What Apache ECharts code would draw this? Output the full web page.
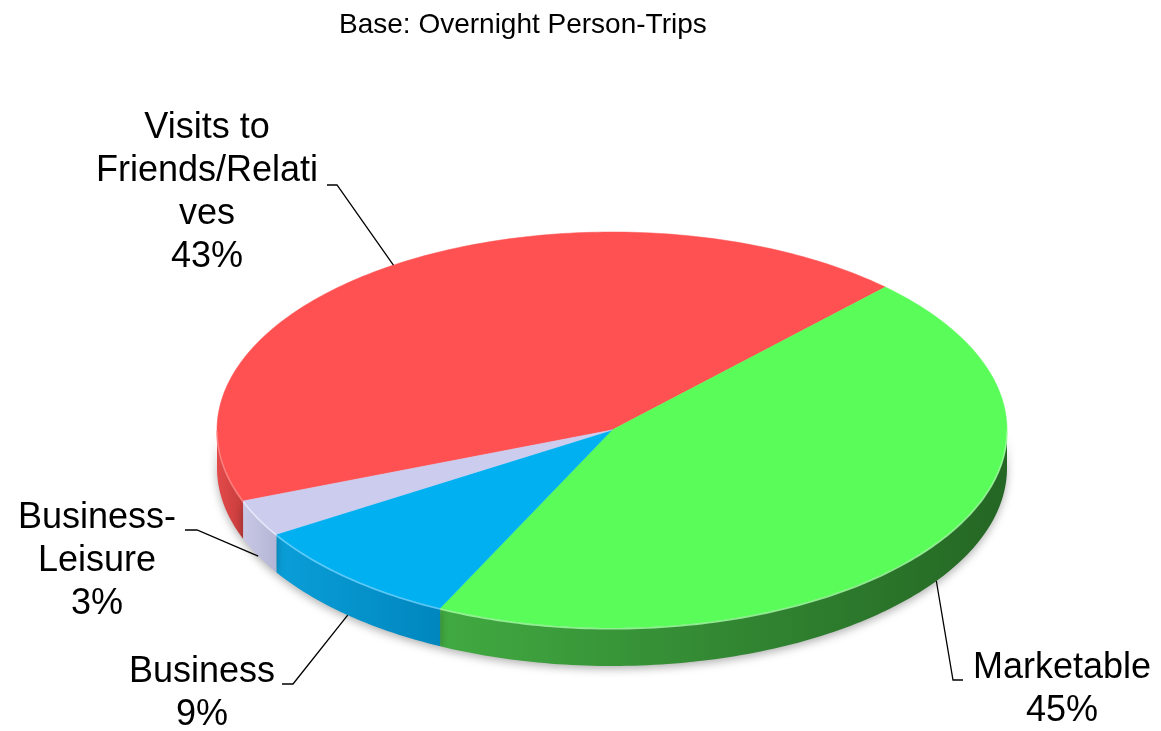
<!DOCTYPE html>
<html>
<head>
<meta charset="utf-8">
<script src="https://cdn.jsdelivr.net/npm/echarts@6/dist/echarts.min.js"></script>
<style>
  html, body { margin: 0; padding: 0; background: #ffffff; }
  #chart { width: 1161px; height: 731px; }
</style>
</head>
<body>
<div id="chart"></div>
<script>
// Purpose of overnight person-trips (share of trips, %)
const categories = ['Visits to Friends/Relatives', 'Marketable', 'Business', 'Business-Leisure'];
const labelLines = ['Visits to\nFriends/Relati\nves', 'Marketable', 'Business', 'Business-\nLeisure'];
const shares = [43, 45, 9, 3];

const topColors = ['#FF5151', '#5AFC5A', '#00B0F0', '#CCCCEE'];
const sideColors = [
  ['#E44A4A', '#C63C3C'],
  ['#41AA41', '#246624'],
  ['#0A9ED8', '#0086BE'],
  ['#C8C8E6', '#B4B4D4']
];
const rimColors = ['#FF8A8A', '#A8FFA8', '#70D4FF', '#EEEEFF'];

// Projected disc geometry
const geo = { cx: 612, cy: 430, rx: 395, ry: 198, depth: 38, startAngle: 159 };

// Label placement: text column centre, first-line centre, elbow of the leader
const labelLayout = [
  { x: 207, y: 128, elbow: [[327, 185], [337, 185]] },
  { x: 1062, y: 668, elbow: [[963, 680], [953, 680]] },
  { x: 202, y: 672, elbow: [[282, 684], [293, 684]] },
  { x: 97, y: 518, elbow: [[185, 530], [197, 530]] }
];
const fontSize = 36;
const lineH = 43;

const total = shares.reduce((a, b) => a + b, 0);
const spans = [];
{
  let a = geo.startAngle;
  shares.forEach(v => {
    const b = a + v / total * 360;
    spans.push([a, b]);
    a = b;
  });
}

const rad = d => d * Math.PI / 180;
function rim(deg, dy) {
  return [geo.cx + geo.rx * Math.cos(rad(deg)), geo.cy + geo.ry * Math.sin(rad(deg)) + (dy || 0)];
}
function arcPts(a, b, dy) {
  const pts = [];
  const n = Math.max(2, Math.ceil(Math.abs(b - a)));
  for (let i = 0; i <= n; i++) pts.push(rim(a + (b - a) * i / n, dy));
  return pts;
}
// parts of a slice that face the viewer (lower half of the disc)
function frontRanges(a, b) {
  const out = [];
  [[0, 180], [360, 540], [-360, -180]].forEach(([lo, hi]) => {
    const s = Math.max(a, lo), e = Math.min(b, hi);
    if (e > s) out.push([s, e]);
  });
  return out;
}

function renderSides(params, api) {
  const i = params.dataIndex;
  const [a, b] = spans[i];
  const children = [];
  frontRanges(a, b).forEach(([s, e]) => {
    const top = arcPts(s, e, 0);
    const bottom = arcPts(s, e, geo.depth).reverse();
    const xs = top.map(p => p[0]);
    const x0 = Math.min(...xs), x1 = Math.max(...xs);
    children.push({
      type: 'polygon',
      shape: { points: top.concat(bottom) },
      style: {
        fill: new echarts.graphic.LinearGradient(x0, 0, x1 + 1, 0, [
          { offset: 0, color: sideColors[i][0] },
          { offset: 1, color: sideColors[i][1] }
        ], true),
        shadowBlur: 8,
        shadowColor: 'rgba(0,0,0,0.30)',
        shadowOffsetY: 3
      }
    });
  });
  return { type: 'group', children };
}

function renderTops(params, api) {
  const i = params.dataIndex;
  const [a, b] = spans[i];
  const children = [{
    type: 'polygon',
    shape: { points: [[geo.cx, geo.cy]].concat(arcPts(a, b, 0)) },
    style: { fill: topColors[i], stroke: topColors[i], lineWidth: 0.5 }
  }];
  frontRanges(a, b).forEach(([s, e]) => {
    children.push({
      type: 'polyline',
      shape: { points: arcPts(s, e, 0.8) },
      style: { stroke: rimColors[i], lineWidth: 1.6, fill: null, opacity: 0.8 }
    });
  });
  return { type: 'group', children };
}

function renderLabels(params, api) {
  const i = params.dataIndex;
  const [a, b] = spans[i];
  const mid = (a + b) / 2;
  const anchor = Math.sin(rad(mid)) > 0 ? rim(mid, geo.depth) : rim(mid, 0);
  const lay = labelLayout[i];
  return {
    type: 'group',
    children: [
      {
        type: 'polyline',
        shape: { points: lay.elbow.concat([anchor]) },
        style: { stroke: '#000000', lineWidth: 1.3, fill: null }
      },
      {
        type: 'text',
        style: {
          text: labelLines[i] + '\n' + api.value(0) + '%',
          x: lay.x,
          y: lay.y - lineH / 2,
          align: 'center',
          verticalAlign: 'top',
          fontSize: fontSize,
          fontFamily: '"Liberation Sans", Arial, sans-serif',
          lineHeight: lineH,
          fill: '#000000'
        }
      }
    ]
  };
}

const seriesData = categories.map((name, i) => ({ name, value: [shares[i]] }));

const chart = echarts.init(document.getElementById('chart'), null, { renderer: 'canvas' });
chart.setOption({
  backgroundColor: '#ffffff',
  animation: false,
  title: {
    text: 'Base: Overnight Person-Trips',
    left: 334,
    top: 6,
    textStyle: {
      fontSize: 28,
      fontWeight: 'normal',
      fontFamily: '"Liberation Sans", Arial, sans-serif',
      color: '#000000'
    }
  },
  series: [
    { type: 'custom', name: 'sides', coordinateSystem: 'none', z: 1, data: seriesData, renderItem: renderSides, silent: true },
    { type: 'custom', name: 'tops', coordinateSystem: 'none', z: 2, data: seriesData, renderItem: renderTops, silent: true },
    { type: 'custom', name: 'labels', coordinateSystem: 'none', z: 3, data: seriesData, renderItem: renderLabels, silent: true }
  ]
});
</script>
</body>
</html>
